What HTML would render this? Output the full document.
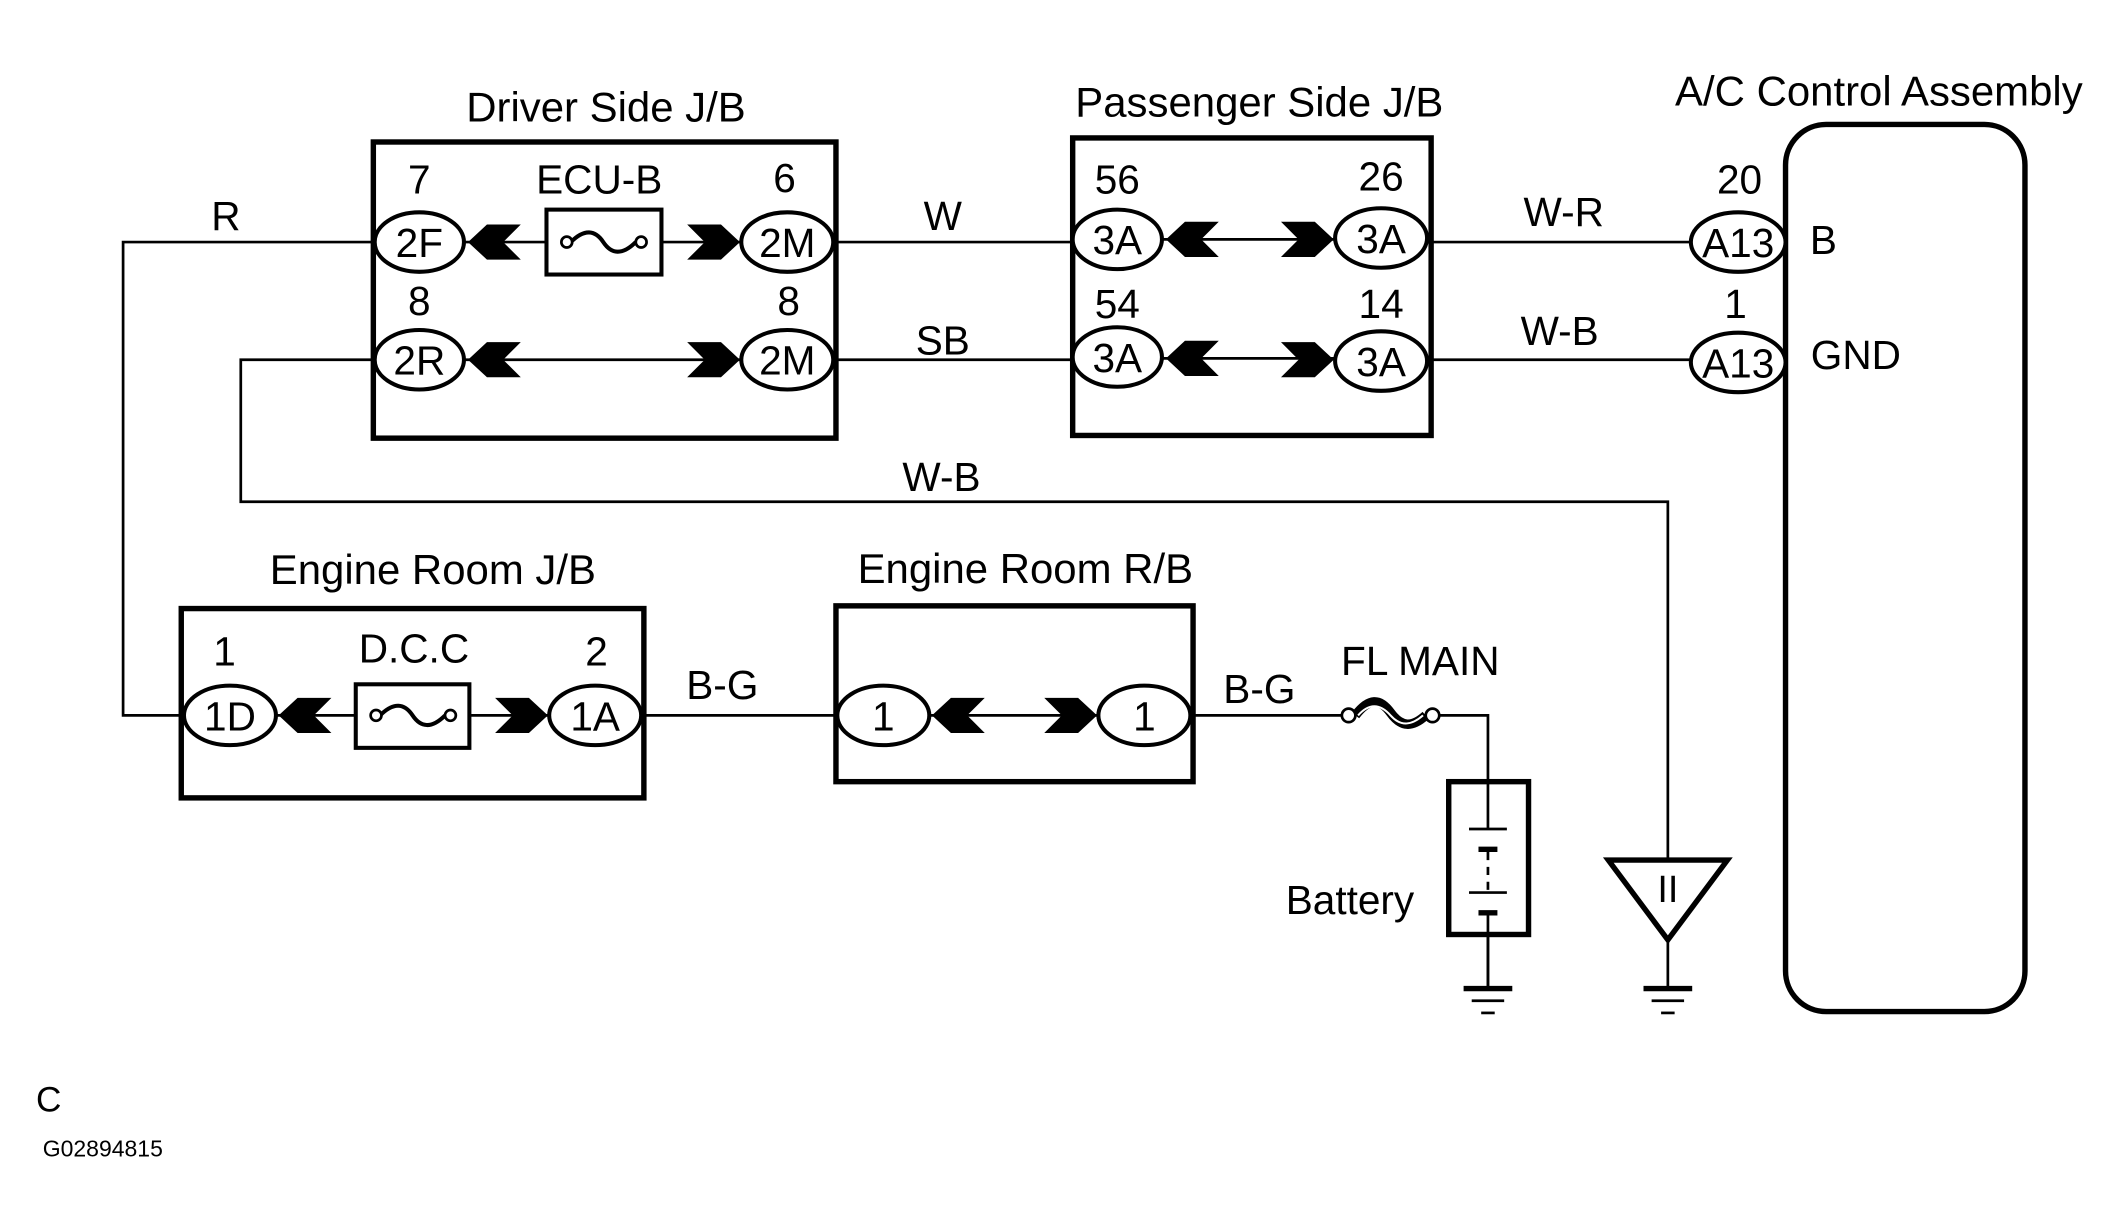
<!DOCTYPE html>
<html><head><meta charset="utf-8"><style>html,body{margin:0;padding:0;background:#fff}svg{display:block}</style></head>
<body>
<svg width="2121" height="1232" viewBox="0 0 1568 911" preserveAspectRatio="none" xmlns="http://www.w3.org/2000/svg" font-family="Liberation Sans, Arial, sans-serif" font-size="30" text-anchor="middle">
<defs>
<polygon id="cl" points="0,0 14,-13 39,-13 26,0 39,13 14,13" fill="#000"/>
<polygon id="cr" points="0,0 -14,-13 -39,-13 -26,0 -39,13 -14,13" fill="#000"/>
</defs>
<g fill="none" stroke="#000">
<polyline stroke-width="2" points="277,179 91,179 91,529 135,529"/>
<polyline stroke-width="2" points="277,266 178,266 178,371 1233,371 1233,636"/>
<line stroke-width="2" x1="343" y1="179" x2="549" y2="179"/>
<line stroke-width="2" x1="343" y1="266" x2="549" y2="266"/>
<line stroke-width="2" x1="615" y1="179" x2="793" y2="179"/>
<line stroke-width="2" x1="615" y1="266" x2="793" y2="266"/>
<line stroke-width="2" x1="859" y1="177" x2="988" y2="177"/>
<line stroke-width="2" x1="859" y1="265" x2="988" y2="265"/>
<line stroke-width="2" x1="1054" y1="179" x2="1250" y2="179"/>
<line stroke-width="2" x1="1054" y1="266" x2="1250" y2="266"/>
<line stroke-width="2" x1="203" y1="529" x2="407" y2="529"/>
<line stroke-width="2" x1="473" y1="529" x2="620" y2="529"/>
<line stroke-width="2" x1="686" y1="529" x2="812" y2="529"/>
<line stroke-width="2" x1="880" y1="529" x2="992" y2="529"/>
<polyline stroke-width="2" points="1064,529 1100,529 1100,730"/>
<line stroke-width="2" x1="1233" y1="695" x2="1233" y2="730"/>
<rect x="276" y="105" width="342" height="219" stroke-width="4"/>
<rect x="793" y="102" width="265" height="220" stroke-width="4"/>
<rect x="134" y="450" width="342" height="140" stroke-width="4"/>
<rect x="618" y="448" width="264" height="130" stroke-width="4"/>
<rect x="1320" y="92" width="177" height="656" rx="30" stroke-width="4"/>
<rect x="404" y="155" width="85" height="48" stroke-width="3" fill="#fff"/>
<path d="M422,179 C432,169 440,170 446,179 C452,188 460,189 470,179" stroke-width="3"/>
<circle cx="419" cy="179" r="4" stroke-width="2" fill="#fff"/>
<circle cx="474" cy="179" r="4" stroke-width="2" fill="#fff"/>
<rect x="263" y="506" width="84" height="47" stroke-width="3" fill="#fff"/>
<path d="M281,529 C291,519 299,520 305,529 C311,538 319,539 329,529" stroke-width="3"/>
<circle cx="278" cy="529" r="4" stroke-width="2" fill="#fff"/>
<circle cx="333" cy="529" r="4" stroke-width="2" fill="#fff"/>
<path d="M1002,529 C1012,516 1020,516 1028,527 C1036,538 1044,538 1054,529" stroke-width="7"/>
<path d="M1004,529 C1012,520 1020,520 1028,529 C1036,538 1044,536 1052,529" stroke="#fff" stroke-width="1.5"/>
<circle cx="997" cy="529" r="5" stroke-width="2" fill="#fff"/>
<circle cx="1059" cy="529" r="5" stroke-width="2" fill="#fff"/>
<rect x="1071" y="578" width="59" height="113" stroke-width="4" fill="#fff"/>
<line stroke-width="2" x1="1100" y1="578" x2="1100" y2="613"/>
<line stroke-width="2" x1="1086" y1="613" x2="1114" y2="613"/>
<line stroke-width="4" x1="1093" y1="628" x2="1107" y2="628"/>
<line stroke-width="2" x1="1100" y1="630" x2="1100" y2="660" stroke-dasharray="6,5"/>
<line stroke-width="2" x1="1086" y1="660" x2="1114" y2="660"/>
<line stroke-width="4" x1="1093" y1="675" x2="1107" y2="675"/>
<line stroke-width="2" x1="1100" y1="675" x2="1100" y2="730"/>
<line stroke-width="4" x1="1082" y1="731" x2="1118" y2="731"/>
<line stroke-width="2" x1="1088" y1="740" x2="1112" y2="740"/>
<line stroke-width="2" x1="1095" y1="749" x2="1105" y2="749"/>
<line stroke-width="4" x1="1215" y1="731" x2="1251" y2="731"/>
<line stroke-width="2" x1="1221" y1="740" x2="1245" y2="740"/>
<line stroke-width="2" x1="1228" y1="749" x2="1238" y2="749"/>
<polygon points="1189,636 1277,636 1233,695" stroke-width="4" fill="#fff"/>
<g stroke-width="3" fill="#fff">
<ellipse cx="310" cy="179" rx="33" ry="22"/><ellipse cx="310" cy="266" rx="33" ry="22"/>
<ellipse cx="582" cy="179" rx="34" ry="22"/><ellipse cx="582" cy="266" rx="34" ry="22"/>
<ellipse cx="826" cy="177" rx="33" ry="22"/><ellipse cx="826" cy="264" rx="33" ry="22"/>
<ellipse cx="1021" cy="176" rx="34" ry="22"/><ellipse cx="1021" cy="267" rx="34" ry="22"/>
<ellipse cx="1285" cy="179" rx="35" ry="22"/><ellipse cx="1285" cy="268" rx="35" ry="22"/>
<ellipse cx="170" cy="529" rx="34" ry="22"/><ellipse cx="440" cy="529" rx="34" ry="22"/>
<ellipse cx="653" cy="529" rx="34" ry="22"/><ellipse cx="846" cy="529" rx="34" ry="22"/>
</g>
</g>
<use href="#cl" x="346" y="179"/><use href="#cl" x="346" y="266"/>
<use href="#cr" x="547" y="179"/><use href="#cr" x="547" y="266"/>
<use href="#cl" x="862" y="177"/><use href="#cl" x="862" y="265"/>
<use href="#cr" x="986" y="177"/><use href="#cr" x="986" y="266"/>
<use href="#cl" x="206" y="529"/><use href="#cr" x="405" y="529"/>
<use href="#cl" x="689" y="529"/><use href="#cr" x="811" y="529"/>
<g fill="#000">
<text x="448" y="90" font-size="31">Driver Side J/B</text>
<text x="931" y="86" font-size="31">Passenger Side J/B</text>
<text x="1389" y="78" font-size="31">A/C Control Assembly</text>
<text x="320" y="432" font-size="31">Engine Room J/B</text>
<text x="758" y="431" font-size="31">Engine Room R/B</text>
<text x="310" y="143">7</text><text x="443" y="143">ECU-B</text><text x="580" y="142">6</text>
<text x="310" y="233">8</text><text x="583" y="233">8</text>
<text x="310" y="190">2F</text><text x="310" y="277">2R</text>
<text x="582" y="190">2M</text><text x="582" y="277">2M</text>
<text x="826" y="143">56</text><text x="826" y="235">54</text>
<text x="1021" y="141">26</text><text x="1021" y="235">14</text>
<text x="826" y="188">3A</text><text x="826" y="275">3A</text>
<text x="1021" y="187">3A</text><text x="1021" y="278">3A</text>
<text x="1286" y="143">20</text><text x="1283" y="235">1</text>
<text x="1285" y="190">A13</text><text x="1285" y="279">A13</text>
<text x="1348" y="188">B</text><text x="1372" y="273">GND</text>
<text x="167" y="170">R</text><text x="697" y="170">W</text><text x="697" y="262">SB</text>
<text x="1156" y="167">W-R</text><text x="1153" y="255">W-B</text><text x="696" y="363">W-B</text>
<text x="166" y="492">1</text><text x="306" y="490">D.C.C</text><text x="441" y="492">2</text>
<text x="170" y="540">1D</text><text x="440" y="540">1A</text>
<text x="653" y="540">1</text><text x="846" y="540">1</text>
<text x="534" y="517">B-G</text><text x="931" y="520">B-G</text>
<text x="1050" y="499">FL MAIN</text>
<text x="998" y="676">Battery</text>
<text x="1233" y="667" font-size="28">II</text>
<text x="36" y="822" font-size="26">C</text>
<text x="76" y="855" font-size="17">G02894815</text>
</g>
</svg>
</body></html>
